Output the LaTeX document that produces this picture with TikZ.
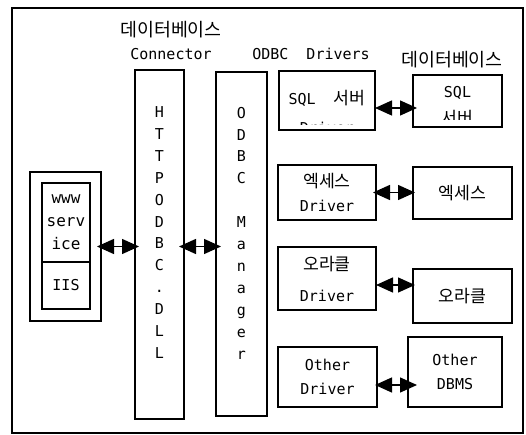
\documentclass[tikz,border=0pt]{standalone}
\usepackage{fontspec}
\setmainfont{DejaVu Sans Mono}
\newfontfamily\kr{Noto Sans CJK KR}[Scale=1.15]
\usepackage{tikz}
\usetikzlibrary{arrows.meta,positioning}

\begin{document}
\begin{tikzpicture}[
	x=1pt, y=-1pt,
	font=\fontsize{15}{24}\selectfont,
	box/.style={rectangle, draw=black, line width=1.1pt, inner sep=0pt, outer sep=0pt, align=center},
	vtxt/.style={align=center, inner sep=0pt, font=\fontsize{15}{21.9}\selectfont},
	titulo/.style={font=\fontsize{16}{20}\selectfont},
	cut/.style n args={3}{path picture={
		\clip ([yshift=#1]path picture bounding box.south west) rectangle (path picture bounding box.north east);
		\node[draw=none, align=center, inner sep=0pt] at ([yshift=#2]path picture bounding box.center) {#3};}},
	dbl/.style={{Triangle[length=17pt,width=15pt]}-{Triangle[length=17pt,width=15pt]}, line width=1.4pt},
]
\useasboundingbox (0,0) rectangle (526,435);
\draw[line width=1.6pt] (12,8) rectangle (523,433);

\node[titulo] (dbtitle) at (171,30) {\kr 데이터베이스};
\node (conn) at (171,54) {Connector};
\node (drvtitle) at (311,54) {ODBC~~Drivers};
\node[titulo] (dbtitle2) at (452,60) {\kr 데이터베이스};

\node[box, minimum width=71pt, minimum height=149pt] (iisgrp) at (65.5,246.5) {};
\node[box, minimum width=48pt, minimum height=79pt, font=\fontsize{16}{23}\selectfont] (www) at (66,222.5) {www\\serv\\ice};
\node[box, minimum width=48pt, minimum height=47pt, below=0pt of www] (iis) {IIS};

\node[box, minimum width=49pt, minimum height=349pt] (http) at (159.5,244.5) {};
\node[vtxt] (httplbl) at ([yshift=12pt]http.center) {H\\T\\T\\P\\O\\D\\B\\C\\.\\D\\L\\L};
\node[box, minimum width=51pt, minimum height=344pt] (odbcmgr) at (241.5,244) {};
\node[vtxt] (mgrlbl) at ([yshift=11pt]odbcmgr.center) {O\\D\\B\\C\\~\\M\\a\\n\\a\\g\\e\\r};

\node[box, minimum width=96pt, minimum height=59pt, cut={5pt}{-11pt}{SQL~~{\kr 서버}\\[5pt]Driver}] (sqldrv) at (327,100.5) {};
\node[box, minimum width=89pt, minimum height=52pt, cut={7pt}{-5.5pt}{SQL\\[3pt]{\kr 서버}}] (sqldb) at (457.5,101) {};
\node[box, minimum width=98pt, minimum height=55pt] (accdrv) at (327,192.5) {{\kr 엑세스}\\Driver};
\node[box, minimum width=99pt, minimum height=52pt] (accdb) at (462.5,193) {\kr 엑세스};
\node[box, minimum width=98pt, minimum height=63pt] (oradrv) at (327,278.5) {{\kr 오라클}\\[7pt]Driver};
\node[box, minimum width=99pt, minimum height=54pt] (oradb) at (462.5,296) {\kr 오라클};
\node[box, minimum width=99pt, minimum height=60pt] (othdrv) at (327.5,377) {Other\\Driver};
\node[box, minimum width=94pt, minimum height=70pt] (othdb) at (455,372) {Other\\DBMS};

\coordinate (sqlarr) at ([yshift=-7.5pt]sqldrv.east);
\coordinate (oraarr) at ([yshift=-6.5pt]oradrv.east);
\coordinate (otharr) at ([yshift=-8pt]othdrv.east);

\draw[dbl, shorten <=-4pt, shorten >=-4pt] (iisgrp.east) -- (iisgrp.east -| http.west);
\draw[dbl, shorten <=-5pt, shorten >=-5pt] (iisgrp.east -| http.east) -- (iisgrp.east -| odbcmgr.west);
\draw[dbl, shorten >=-4pt] (sqlarr) -- (sqlarr -| sqldb.west);
\draw[dbl, shorten <=-3pt, shorten >=-2pt] (accdrv.east) -- (accdrv.east -| accdb.west);
\draw[dbl, shorten >=-2pt] (oraarr) -- (oraarr -| oradb.west);
\draw[dbl, shorten <=-2pt, shorten >=-9pt] (otharr) -- (otharr -| othdb.west);
\end{tikzpicture}
\end{document}
